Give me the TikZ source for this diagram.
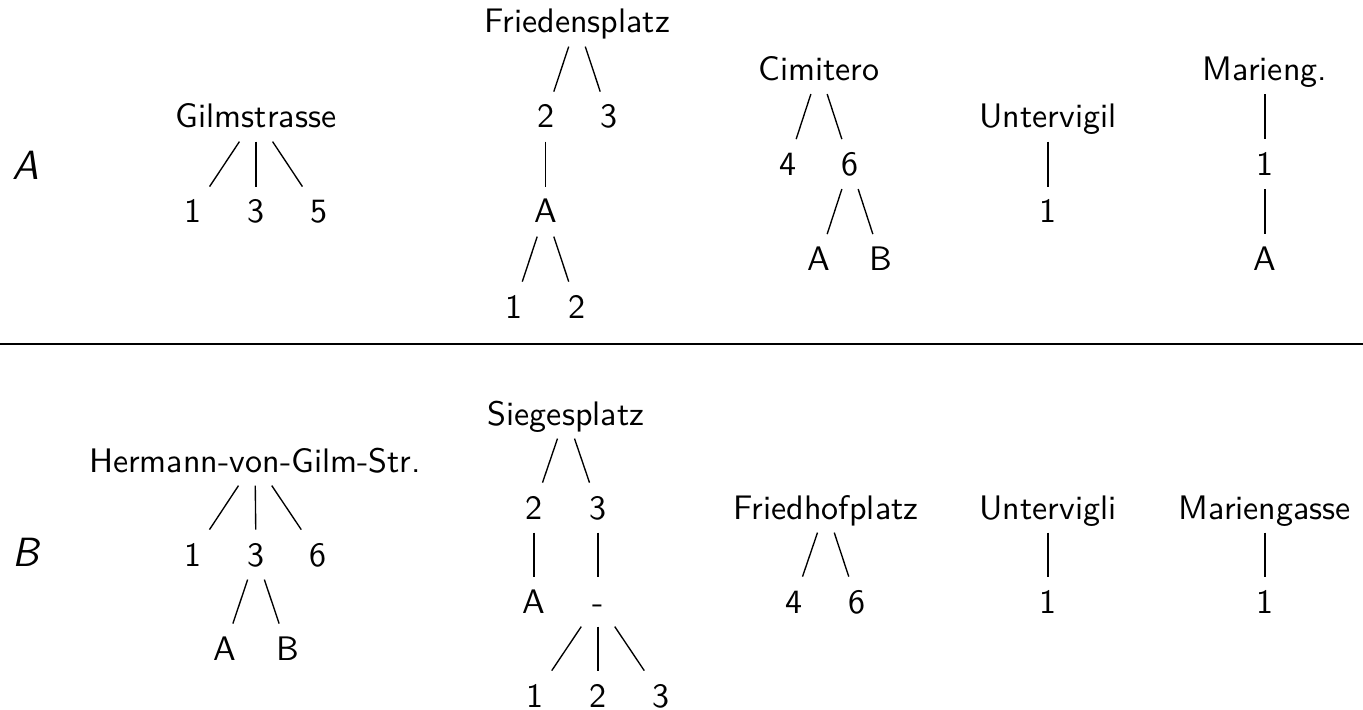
\documentclass[tikz,border=0pt]{standalone}
\begin{document}
\begin{tikzpicture}[x=0.294pt, y=-0.294pt,
    every node/.style={font=\sffamily, anchor=base, text height=8pt, text depth=1.3pt, inner ysep=2.5pt},
    rowlabel/.style={font=\large\sffamily\itshape}]
	    \useasboundingbox (0,0) rectangle (1363,709);
	    % upper row
	    \node[rowlabel] (rowA) at (26,180) {A};
	    \node (gil) at (256,128) {Gilmstrasse};
	    \foreach \n/\x in {1/193,3/256,5/319}
		\node (gil\n) at (\x,223) {\n};
	    \draw (gil) -- (gil1);
	    \draw (gil) -- (gil3);
	    \draw (gil) -- (gil5);
	    \node (fri) at (577,33) {Friedensplatz};
	    \node (fri2) at (545.5,128) {2};
	    \node (fri3) at (608.5,128) {3};
	    \node (friA) at (545.5,223) {A};
	    \node (friA1) at (514,318) {1};
	    \node (friA2) at (577,318) {2};
	    \draw (fri) -- (fri2);
	    \draw (fri) -- (fri3);
	    \draw (fri2) -- (friA);
	    \draw (friA) -- (friA1);
	    \draw (friA) -- (friA2);
	    \node (cim) at (819,80.5) {Cimitero};
	    \node (cim4) at (788,175.5) {4};
	    \node (cim6) at (850,175.5) {6};
	    \node (cimA) at (819,270.5) {A};
	    \node (cimB) at (881,270.5) {B};
	    \draw (cim) -- (cim4);
	    \draw (cim) -- (cim6);
	    \draw (cim6) -- (cimA);
	    \draw (cim6) -- (cimB);
	    \node (unt) at (1048,128) {Untervigil};
	    \node (unt1) at (1048,223) {1};
	    \draw (unt) -- (unt1);
	    \node (mar) at (1265,80.5) {Marieng.};
	    \node (mar1) at (1265,175.5) {1};
	    \node (marA) at (1265,270.5) {A};
	    \draw (mar) -- (mar1);
	    \draw (mar1) -- (marA);
	    % separator
	    \draw (0,344) -- (1363,344);
	    % lower row
	    \node[rowlabel] (rowB) at (26,566) {B};
	    \node (her) at (255,472) {Hermann-von-Gilm-Str.};
	    \foreach \n/\x in {1/193,3/256,6/318}
		\node (her\n) at (\x,566) {\n};
	    \node (herA) at (224.5,660) {A};
	    \node (herB) at (287.5,660) {B};
	    \draw (her) -- (her1);
	    \draw (her) -- (her3);
	    \draw (her) -- (her6);
	    \draw (her3) -- (herA);
	    \draw (her3) -- (herB);
	    \node (sie) at (566,425) {Siegesplatz};
	    \node (sie2) at (534,519) {2};
	    \node (sie3) at (598,519) {3};
	    \node (sieA) at (534,613) {A};
	    \node (sieD) at (598,613) {-};
	    \foreach \n/\x in {1/535,2/598,3/661}
		\node (sieD\n) at (\x,707) {\n};
	    \draw (sie) -- (sie2);
	    \draw (sie) -- (sie3);
	    \draw (sie2) -- (sieA);
	    \draw (sie3) -- (sieD);
	    \draw (sieD) -- (sieD1);
	    \draw (sieD) -- (sieD2);
	    \draw (sieD) -- (sieD3);
	    \node (fhp) at (826,519) {Friedhofplatz};
	    \node (fhp4) at (794,613) {4};
	    \node (fhp6) at (857,613) {6};
	    \draw (fhp) -- (fhp4);
	    \draw (fhp) -- (fhp6);
	    \node (unb) at (1048,519) {Untervigli};
	    \node (unb1) at (1048,613) {1};
	    \draw (unb) -- (unb1);
	    \node (mgs) at (1265,519) {Mariengasse};
	    \node (mgs1) at (1265,613) {1};
	    \draw (mgs) -- (mgs1);
	\end{tikzpicture}
\end{document}
